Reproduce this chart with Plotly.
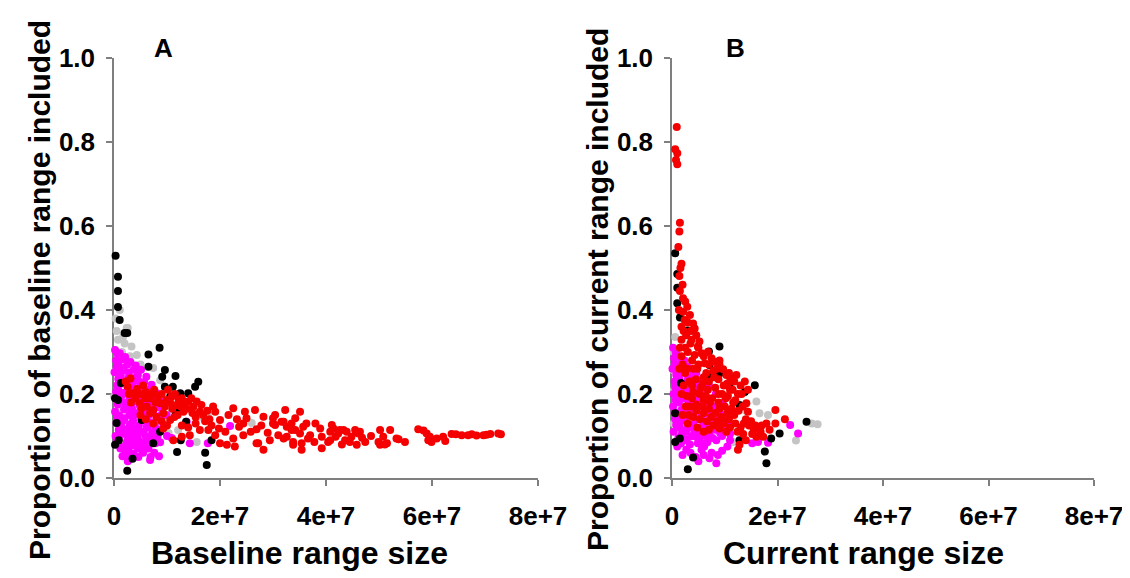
import plotly.graph_objects as go

# ---------------- Panel A (baseline) : x in units of 1e6 ----------------
a_gray_x = [1.1, 2.4, 1.7, 3.3, 0.75, 4.3, 7.4, 9.6, 8.7, 16.2, 17.7, 26.0, 15.6, 10.3, 0.4, 0.75, 1.1, 10.9, 12.1, 6.2, 9.0, 4.8, 0.0, 6.4, 2.6, 0.3, 1.5, 3.0, 5.0, 2.0, 7.5, 0.5]
a_gray_y = [0.40, 0.357, 0.336, 0.313, 0.329, 0.293, 0.262, 0.217, 0.233, 0.146, 0.15, 0.131, 0.086, 0.107, 0.257, 0.2, 0.162, 0.158, 0.114, 0.178, 0.19, 0.083, 0.194, 0.071, 0.357, 0.38, 0.30, 0.29, 0.27, 0.32, 0.2, 0.35]

a_mag_x = [0.2, 0.4, 0.1, 0.6, 0.3, 0.2, 0.5, 0.3,
           1.1, 0.9, 1.3, 0.8, 1.2, 1.0, 1.4, 0.9, 1.2,
           2.1, 1.8, 2.3, 1.9, 2.2, 2.0, 1.7, 2.4, 2.1,
           3.1, 2.8, 3.3, 2.9, 3.2, 3.0, 2.7, 3.4, 3.0,
           4.1, 3.8, 4.3, 3.9, 4.2, 4.0, 3.7, 4.4,
           5.1, 4.8, 5.3, 4.9, 5.2, 5.0, 4.7, 5.4,
           6.1, 5.8, 6.3, 5.9, 6.2, 6.0, 5.7,
           7.1, 6.8, 7.3, 6.9, 7.2, 7.0,
           8.1, 7.8, 8.3, 7.9, 8.2,
           9.1, 8.8, 9.3,
           21.9, 17.7, 14.3, 13.7, 10.9, 6.8, 8.5, 5.4, 4.3,
           0.7, 0.5, 0.8, 0.4, 0.7, 0.6, 0.9, 0.5,
           1.7, 1.5, 1.8, 1.4, 1.9, 1.6, 1.5, 1.8, 1.6,
           2.5, 2.8, 2.6, 2.4, 2.9, 2.7, 2.5, 2.8, 2.6,
           3.7, 3.5, 3.8, 3.4, 3.6, 3.9, 3.5, 3.7,
           4.5, 4.8, 4.6, 4.4, 4.7, 4.5, 4.9, 4.6,
           5.7, 5.5, 5.8, 5.4, 5.6, 5.9, 5.5,
           6.5, 6.8, 6.6, 6.4, 6.7, 6.5, 6.9,
           7.6, 7.4, 7.7, 7.5, 7.8, 7.6,
           8.6, 8.8, 8.5, 8.7,
           9.9, 9.7, 10.0]
a_mag_y = [0.305, 0.28, 0.252, 0.221, 0.19, 0.158, 0.131, 0.1,
           0.297, 0.268, 0.243, 0.211, 0.182, 0.148, 0.121, 0.092, 0.07,
           0.288, 0.262, 0.228, 0.203, 0.171, 0.142, 0.112, 0.083, 0.06,
           0.276, 0.251, 0.219, 0.194, 0.163, 0.128, 0.103, 0.078, 0.05,
           0.268, 0.238, 0.212, 0.182, 0.151, 0.119, 0.092, 0.07,
           0.258, 0.229, 0.198, 0.171, 0.139, 0.111, 0.088, 0.062,
           0.241, 0.212, 0.182, 0.151, 0.122, 0.099, 0.078,
           0.222, 0.192, 0.161, 0.132, 0.108, 0.09,
           0.201, 0.171, 0.142, 0.118, 0.098,
           0.181, 0.149, 0.121,
           0.124, 0.083, 0.083, 0.134, 0.095, 0.043, 0.052, 0.063, 0.083,
           0.295, 0.265, 0.236, 0.205, 0.175, 0.145, 0.115, 0.085,
           0.283, 0.255, 0.225, 0.195, 0.163, 0.135, 0.105, 0.075, 0.052,
           0.27, 0.24, 0.21, 0.18, 0.15, 0.118, 0.09, 0.065, 0.04,
           0.258, 0.228, 0.198, 0.166, 0.137, 0.108, 0.082, 0.057,
           0.245, 0.215, 0.185, 0.155, 0.125, 0.1, 0.075, 0.05,
           0.228, 0.198, 0.166, 0.137, 0.11, 0.085, 0.06,
           0.21, 0.18, 0.15, 0.12, 0.095, 0.07, 0.05,
           0.19, 0.16, 0.13, 0.107, 0.083, 0.06,
           0.168, 0.138, 0.11, 0.085,
           0.15, 0.125, 0.1]

a_black_x = [0.3, 0.75, 0.75, 0.75, 1.07, 2.0, 2.5, 8.6, 6.5, 6.5, 9.6, 11.6, 9.1, 15.3, 14.0, 12.5, 11.1, 0.2, 0.9, 0.2, 3.5, 2.5, 11.9, 12.6, 17.2, 17.5, 18.4, 8.7, 5.2, 1.3, 6.8, 12.2, 10.6, 0.5, 7.4, 15.9, 13.6, 11.7, 0.75, 9.6]
a_black_y = [0.529, 0.479, 0.445, 0.407, 0.376, 0.345, 0.345, 0.31, 0.294, 0.265, 0.257, 0.243, 0.241, 0.217, 0.202, 0.202, 0.217, 0.19, 0.09, 0.079, 0.046, 0.017, 0.062, 0.09, 0.06, 0.031, 0.09, 0.11, 0.138, 0.226, 0.19, 0.158, 0.194, 0.131, 0.083, 0.229, 0.134, 0.155, 0.186, 0.217]

a_red_x = [3.1, 2.6, 4.3, 6.8, 8.3, 9.9, 10.9, 12.8, 14.0, 15.6, 16.5, 16.2, 18.7, 19.1, 22.5, 21.6, 20.0, 24.7, 26.6, 25.0,
           24.4, 28.2, 30.0, 31.6, 30.4, 32.6, 33.5, 34.2, 35.1, 35.7, 37.0, 38.9, 39.2, 40.8, 42.6, 43.9, 45.5, 40.8, 35.4, 33.8,
           32.0, 29.4, 28.2, 26.9, 24.4, 22.5, 22.8, 21.3, 20.0, 19.1, 17.8, 16.2, 14.3, 12.8, 11.2, 10.6, 9.3, 7.4, 6.8, 5.2,
           3.6, 4.9, 8.7, 11.8, 13.1, 7.4, 9.3, 35.1, 32.3, 36.3, 41.4, 43.6, 44.8, 45.8,
           30.4, 26.9, 30.0, 32.0, 34.2, 33.5, 32.6, 27.2, 33.8, 35.4, 41.1, 39.2, 40.4, 42.3, 43.3, 46.1, 44.5, 45.8, 47.4, 50.2,
           52.1, 49.9, 51.5, 53.3, 54.9, 57.4, 58.4, 59.0, 59.6, 59.9, 60.9, 62.1, 63.7, 65.6, 66.8, 68.4, 69.7, 71.0, 72.5,
           50.8, 53.7, 50.2, 51.1, 59.3, 62.5, 64.5, 67.5, 70.3, 73.0,
           2.2, 5.5, 4.0, 6.0, 7.6, 9.0, 10.2, 11.5, 12.2, 13.5, 15.0, 14.6, 11.0, 8.0, 6.2, 3.2, 10.0, 12.0, 15.4, 17.2,
           18.4, 19.8, 21.0, 23.6, 25.8, 27.8, 23.2, 29.0, 31.0, 36.6, 37.8, 38.0, 41.8, 43.0, 46.8, 48.5, 46.4,
           2.8, 4.8, 5.8, 7.0, 7.8, 9.6, 10.6, 12.6, 13.8, 14.8, 16.8, 17.6, 18.0, 5.0, 6.0, 9.0, 11.4, 12.8, 14.0, 15.4]
a_red_y = [0.237, 0.217, 0.212, 0.19, 0.194, 0.186, 0.194, 0.19, 0.182, 0.182, 0.174, 0.158, 0.17, 0.158, 0.166, 0.15, 0.138, 0.158, 0.162, 0.142,
           0.13, 0.146, 0.142, 0.134, 0.126, 0.122, 0.13, 0.114, 0.106, 0.122, 0.102, 0.118, 0.071, 0.11, 0.114, 0.11, 0.114, 0.09, 0.083, 0.086,
           0.094, 0.09, 0.067, 0.083, 0.102, 0.094, 0.075, 0.079, 0.083, 0.102, 0.114, 0.114, 0.102, 0.098, 0.09, 0.138, 0.154, 0.162, 0.155, 0.166,
           0.202, 0.178, 0.178, 0.174, 0.158, 0.13, 0.118, 0.158, 0.162, 0.13, 0.118, 0.09, 0.098, 0.11,
           0.15, 0.116, 0.13, 0.134, 0.142, 0.114, 0.098, 0.083, 0.079, 0.067, 0.126, 0.098, 0.086, 0.106, 0.114, 0.106, 0.086, 0.079, 0.086, 0.114,
           0.114, 0.086, 0.083, 0.094, 0.086, 0.116, 0.113, 0.106, 0.098, 0.086, 0.094, 0.098, 0.105, 0.102, 0.102, 0.101, 0.102, 0.105, 0.106,
           0.098, 0.092, 0.079, 0.08, 0.09, 0.088, 0.104, 0.104, 0.103, 0.104,
           0.23, 0.22, 0.19, 0.205, 0.21, 0.2, 0.21, 0.2, 0.186, 0.178, 0.17, 0.19, 0.165, 0.145, 0.17, 0.18, 0.125, 0.15, 0.145, 0.135,
           0.125, 0.118, 0.11, 0.122, 0.11, 0.125, 0.14, 0.108, 0.102, 0.094, 0.086, 0.13, 0.098, 0.08, 0.096, 0.1, 0.11,
           0.2, 0.2, 0.19, 0.2, 0.18, 0.17, 0.18, 0.17, 0.165, 0.155, 0.15, 0.16, 0.14, 0.15, 0.14, 0.135, 0.145, 0.125, 0.12, 0.13]

# ---------------- Panel B (current) : x in units of 1e6 ----------------
b_gray_x = [16.0, 16.6, 18.2, 23.5, 26.5, 0.3, 0.5, 1.0, 0.4, 1.5, 2.5, 3.5, 0.8, 2.0, 5.0, 7.0, 9.5, 11.0, 13.0, 14.0, 0.3, 1.2, 0.6, 0.9, 0.2, 11.6, 27.6]
b_gray_y = [0.182, 0.154, 0.15, 0.089, 0.13, 0.3, 0.27, 0.24, 0.21, 0.18, 0.28, 0.25, 0.15, 0.12, 0.18, 0.13, 0.12, 0.15, 0.2, 0.16, 0.13, 0.11, 0.336, 0.289, 0.257, 0.086, 0.128]

b_mag_x = [0.2, 0.4, 0.1, 0.5, 0.3, 0.2, 0.6, 0.3,
           1.2, 1.0, 1.4, 1.1, 1.3, 0.9, 1.5, 1.2, 1.0,
           2.3, 2.1, 2.5, 2.2, 2.4, 2.0, 2.6, 2.3,
           3.4, 3.2, 3.6, 3.3, 3.5, 3.1, 3.7, 3.4,
           4.6, 4.4, 4.8, 4.5, 4.7, 4.3, 4.9,
           5.8, 5.6, 6.0, 5.7, 5.9, 5.5, 6.1,
           7.0, 6.8, 7.2, 6.9, 7.1, 6.7,
           8.3, 8.1, 8.5, 8.2, 8.4,
           9.6, 9.4, 9.8, 9.5,
           10.8, 10.6, 11.0,
           22.4, 23.9, 18.2, 16.3, 15.2, 8.7, 8.4, 7.1, 2.7, 5.6, 4.9, 11.0,
           0.7, 0.5, 0.8, 0.6, 0.7, 0.5, 0.8,
           1.8, 1.6, 1.9, 1.7, 1.8, 1.6, 1.9, 1.7,
           2.9, 3.0, 2.8, 3.1, 2.9, 3.0, 2.8,
           4.0, 4.2, 3.9, 4.1, 4.0, 4.2,
           5.2, 5.0, 5.3, 5.1, 5.2, 5.4,
           6.4, 6.2, 6.5, 6.3, 6.4,
           7.6, 7.8, 7.5, 7.7,
           9.0, 8.9, 9.1,
           10.2, 10.3,
           3.5, 4.5, 6.0, 7.5, 2.0, 9.5, 10.5, 5.0]
b_mag_y = [0.31, 0.285, 0.26, 0.23, 0.2, 0.17, 0.14, 0.11,
           0.29, 0.26, 0.235, 0.205, 0.18, 0.15, 0.12, 0.095, 0.075,
           0.28, 0.25, 0.22, 0.19, 0.165, 0.14, 0.11, 0.09,
           0.26, 0.235, 0.205, 0.18, 0.155, 0.125, 0.1, 0.08,
           0.25, 0.22, 0.19, 0.165, 0.14, 0.115, 0.095,
           0.235, 0.205, 0.18, 0.15, 0.125, 0.1, 0.075,
           0.22, 0.19, 0.16, 0.13, 0.105, 0.085,
           0.2, 0.17, 0.14, 0.115, 0.09,
           0.18, 0.15, 0.125, 0.1,
           0.16, 0.13, 0.105,
           0.126, 0.106, 0.084, 0.086, 0.083, 0.055, 0.035, 0.047, 0.067, 0.067, 0.083, 0.09,
           0.298, 0.272, 0.245, 0.216, 0.186, 0.156, 0.126,
           0.276, 0.248, 0.218, 0.19, 0.162, 0.134, 0.106, 0.082,
           0.265, 0.236, 0.206, 0.176, 0.146, 0.118, 0.092,
           0.245, 0.215, 0.185, 0.155, 0.128, 0.1,
           0.232, 0.2, 0.17, 0.14, 0.112, 0.085,
           0.215, 0.185, 0.155, 0.128, 0.1,
           0.17, 0.143, 0.118, 0.095,
           0.158, 0.132, 0.108,
           0.142, 0.118,
           0.06, 0.05, 0.055, 0.06, 0.055, 0.065, 0.075, 0.04]

b_black_x = [0.6, 1.0, 1.0, 1.0, 1.5, 3.0, 9.0, 7.0, 7.1, 9.0, 15.7, 25.5, 20.4, 18.8, 17.6, 17.9, 12.8, 4.0, 3.0, 0.6, 1.5, 0.6, 1.7, 7.2, 8.7, 11.0, 12.8, 13.8]
b_black_y = [0.535, 0.486, 0.453, 0.416, 0.382, 0.351, 0.313, 0.301, 0.269, 0.249, 0.221, 0.134, 0.106, 0.094, 0.063, 0.035, 0.09, 0.049, 0.021, 0.086, 0.094, 0.154, 0.226, 0.245, 0.245, 0.214, 0.174, 0.205]

b_red_x = [0.9, 0.6, 1.0, 0.76, 1.0, 1.5, 1.4, 1.8, 1.4, 1.5, 2.1, 2.9, 2.1, 3.4, 2.4, 4.0, 1.8, 4.3, 2.7, 4.6,
           1.8, 3.7, 5.2, 4.9, 5.6, 7.5, 8.1, 4.3, 6.2, 9.7, 12.2, 10.3, 14.4, 14.1, 14.4, 19.6, 21.4, 19.6, 17.9, 17.3,
           16.0, 12.5, 12.8,
           2.0, 3.0, 3.8, 2.5, 4.0, 5.0, 6.5, 7.8, 8.8, 10.5, 11.5, 2.2, 3.3, 4.5, 5.8, 7.0, 8.2, 9.5, 10.6, 12.0,
           2.8, 4.0, 5.2, 6.4, 7.6, 8.8, 10.0, 11.3, 12.6, 3.4, 4.6, 5.8, 7.0, 8.2, 9.4, 10.8, 12.0, 13.0, 14.6, 15.5,
           13.5, 15.0, 16.2, 4.0, 5.3, 6.6, 7.8, 9.0, 10.3, 6.0, 3.0, 2.0, 1.8, 2.5, 3.5, 6.0, 13.2, 13.8,
           11.0, 9.0, 15.2, 14.0,
           1.2, 1.6, 2.0, 2.5, 1.3, 3.0, 3.6, 2.2, 5.0, 6.8, 7.0, 8.5, 9.0, 10.8, 11.8, 13.0, 1.5, 1.4, 2.8, 4.8,
           6.0, 8.0, 9.8, 11.0, 12.5, 1.8, 3.8, 5.4, 6.8, 8.8, 10.2, 11.6, 13.4, 2.6, 3.8, 6.0, 7.2, 9.0, 10.5, 11.8,
           14.0, 3.2, 4.6, 6.0, 7.4, 8.6, 9.8, 11.0, 12.4, 13.6, 15.8, 16.8, 4.8, 7.0, 17.0, 18.5]
b_red_y = [0.836, 0.783, 0.773, 0.757, 0.747, 0.608, 0.587, 0.51, 0.481, 0.445, 0.428, 0.408, 0.396, 0.388, 0.376, 0.368, 0.36, 0.356, 0.34, 0.34,
           0.329, 0.329, 0.325, 0.313, 0.297, 0.285, 0.277, 0.293, 0.273, 0.259, 0.245, 0.245, 0.21, 0.178, 0.158, 0.162, 0.14, 0.13, 0.13, 0.098,
           0.098, 0.067, 0.079,
           0.27, 0.3, 0.28, 0.25, 0.26, 0.27, 0.25, 0.255, 0.235, 0.225, 0.21, 0.22, 0.23, 0.235, 0.225, 0.23, 0.215, 0.2, 0.195, 0.185,
           0.195, 0.205, 0.2, 0.195, 0.19, 0.18, 0.17, 0.165, 0.16, 0.17, 0.175, 0.17, 0.165, 0.155, 0.145, 0.14, 0.13, 0.12, 0.125, 0.115,
           0.105, 0.135, 0.12, 0.145, 0.14, 0.135, 0.125, 0.118, 0.11, 0.11, 0.13, 0.15, 0.29, 0.31, 0.32, 0.29, 0.2, 0.23,
           0.24, 0.28, 0.105, 0.09,
           0.55, 0.5, 0.46, 0.42, 0.4, 0.37, 0.35, 0.35, 0.31, 0.3, 0.27, 0.26, 0.27, 0.25, 0.23, 0.22, 0.31, 0.26, 0.26, 0.26,
           0.24, 0.24, 0.22, 0.21, 0.2, 0.2, 0.22, 0.215, 0.21, 0.2, 0.19, 0.18, 0.17, 0.17, 0.19, 0.185, 0.18, 0.165, 0.155, 0.15,
           0.14, 0.15, 0.16, 0.155, 0.145, 0.135, 0.13, 0.12, 0.11, 0.13, 0.125, 0.11, 0.12, 0.115, 0.125, 0.115]

x_tick_vals = [0, 20, 40, 60, 80]
x_tick_text = ["0", "2e+7", "4e+7", "6e+7", "8e+7"]
y_tick_vals = [0.0, 0.2, 0.4, 0.6, 0.8, 1.0]
y_tick_text = ["0.0", "0.2", "0.4", "0.6", "0.8", "1.0"]

W, H = 1130, 578
OFF = 8  # page body margin of the html output
FONT = "Arial, 'Liberation Sans', sans-serif"
MS = 8

def px(x):
    return (x - OFF) / W

def py(y):
    return 1 - (y - OFF) / H

fig = go.Figure()

series = [
    ("#c4c4c4", a_gray_x, a_gray_y, b_gray_x, b_gray_y),
    ("#ff00ff", a_mag_x, a_mag_y, b_mag_x, b_mag_y),
    ("#000000", a_black_x, a_black_y, b_black_x, b_black_y),
    ("#f50000", a_red_x, a_red_y, b_red_x, b_red_y),
]
for col, ax_, ay_, bx_, by_ in series:
    fig.add_trace(go.Scatter(x=ax_, y=ay_, mode="markers", xaxis="x", yaxis="y",
                             marker=dict(color=col, size=MS, line=dict(width=0)),
                             cliponaxis=False, showlegend=False))
    fig.add_trace(go.Scatter(x=bx_, y=by_, mode="markers", xaxis="x2", yaxis="y2",
                             marker=dict(color=col, size=MS, line=dict(width=0)),
                             cliponaxis=False, showlegend=False))

ydom = [py(478), py(58)]
axis_common = dict(showgrid=False, zeroline=False, showline=True, linecolor="#7f7f7f",
                   linewidth=1.5, ticks="outside", ticklen=6, tickcolor="#7f7f7f", tickwidth=1.5,
                   tickfont=dict(family=FONT, size=26, color="black", weight="bold"),
                   layer="below traces", automargin=False)
xa = dict(axis_common, range=[0, 80], tickvals=x_tick_vals, ticktext=x_tick_text, ticklabelstandoff=8)
ya = dict(axis_common, range=[0, 1], tickvals=y_tick_vals, ticktext=y_tick_text, ticklabelstandoff=6)

fig.update_layout(
    width=W, height=H, margin=dict(l=0, r=0, t=0, b=0, pad=0, autoexpand=False),
    paper_bgcolor="white", plot_bgcolor="white",
    xaxis=dict(xa, domain=[px(114), px(538)], anchor="y"),
    yaxis=dict(ya, domain=ydom, anchor="x"),
    xaxis2=dict(xa, domain=[px(672), px(1094)], anchor="y2"),
    yaxis2=dict(ya, domain=ydom, anchor="x2"),
)

title_font = dict(family=FONT, size=32, color="black", weight="bold")
ytitle_font = dict(family=FONT, size=30, color="black", weight="bold")
annots = [
    dict(text="Baseline range size", x=px(299), y=py(553), textangle=0, font=title_font),
    dict(text="Current range size", x=px(863), y=py(553), textangle=0, font=title_font),
    dict(text="Proportion of baseline range included", x=px(40), y=py(290), textangle=-90, font=ytitle_font),
    dict(text="Proportion of current range included", x=px(598), y=py(290), textangle=-90, font=ytitle_font),
]
for a in annots:
    fig.add_annotation(text=a["text"], x=a["x"], y=a["y"], xref="paper", yref="paper",
                       xanchor="center", yanchor="middle", textangle=a["textangle"],
                       showarrow=False, font=a["font"])
for letter, xx in [("A", 163), ("B", 735)]:
    fig.add_annotation(text=letter, x=px(xx), y=py(48), xref="paper", yref="paper",
                       xanchor="center", yanchor="middle", showarrow=False,
                       font=dict(family=FONT, size=26, color="black", weight="bold"))

fig.write_html("out.html")
